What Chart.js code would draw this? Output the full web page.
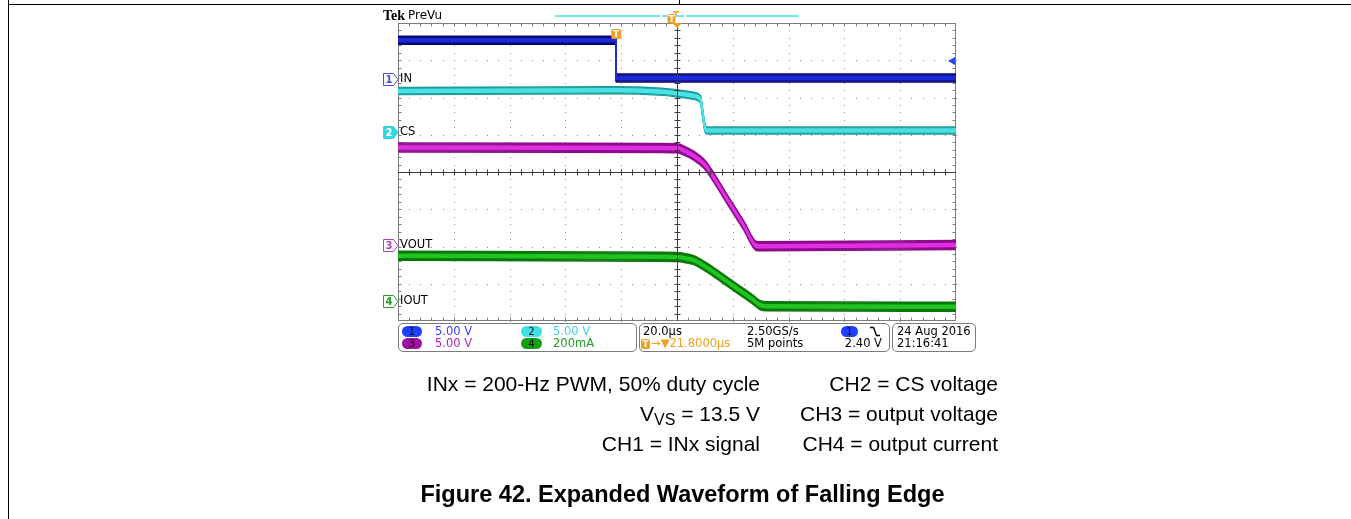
<!DOCTYPE html>
<html>
<head>
<meta charset="utf-8">
<script src="https://cdn.jsdelivr.net/npm/chart.js@4.4.0/dist/chart.umd.min.js"></script>
<style>
  html, body { margin: 0; padding: 0; background: #fff; overflow: hidden; }
  body { width: 1351px; height: 519px; position: relative; }
  #scope { position: absolute; left: 0; top: 0; }
  .ln { position: absolute; background: #000; }
  .rbox { position: absolute; border: 1px solid #7a7a7a; border-radius: 5px; box-sizing: border-box; }
  .ov { position: absolute; height: 11px; border-radius: 6px; font: 10px 'DejaVu Sans'; line-height: 11px; text-align: center; color: #111; }
  .rt { position: absolute; font: 11.5px 'DejaVu Sans'; line-height: 13px; white-space: nowrap; color: #000; }
  .cap { position: absolute; font: 21px 'Liberation Sans', Arial, sans-serif; line-height: 24px; white-space: nowrap; color: #000; text-align: right; }
  .cap .sub { font-size: 16px; position: relative; top: 4px; }
  .title { position: absolute; left: 0; width: 1365px; text-align: center; font: bold 23.5px 'Liberation Sans', Arial, sans-serif; line-height: 26px; }
</style>
</head>
<body>
<!-- page frame lines -->
<div class="ln" style="left:8px;top:0;width:1px;height:519px"></div>
<div class="ln" style="left:8px;top:4px;width:1343px;height:1px"></div>
<div class="ln" style="left:679px;top:0;width:1px;height:5px"></div>

<canvas id="scope" width="1351" height="519"></canvas>

<!-- Tek header -->
<div style="position:absolute;left:383px;top:7px;font:bold 14px 'Liberation Serif',serif;line-height:17px">Tek</div>
<div style="position:absolute;left:408px;top:7px;font:12px 'DejaVu Sans';line-height:16px">PreVu</div>

<!-- readout: channels -->
<div class="rbox" style="left:398px;top:323px;width:239px;height:29px"></div>
<div class="ov" style="left:402px;top:326px;width:20px;background:#2040ff">1</div>
<div class="rt" style="left:435px;top:325px;color:#3a3aff">5.00 V</div>
<div class="ov" style="left:521px;top:326px;width:21px;background:#40e0e6">2</div>
<div class="rt" style="left:553px;top:325px;color:#3cd4e0">5.00 V</div>
<div class="ov" style="left:402px;top:338px;width:20px;background:#a010a0">3</div>
<div class="rt" style="left:435px;top:337px;color:#b020c0">5.00 V</div>
<div class="ov" style="left:521px;top:338px;width:21px;background:#10a010">4</div>
<div class="rt" style="left:553px;top:337px;color:#20a020">200mA</div>

<!-- readout: timebase + trigger -->
<div class="rbox" style="left:639px;top:323px;width:251px;height:29px"></div>
<div class="rt" style="left:643px;top:325px">20.0µs</div>
<div style="position:absolute;left:641px;top:339px;width:9px;height:10px;background:#f0a020;border-radius:2px;color:#fff;font:bold 9px 'DejaVu Sans';line-height:10px;text-align:center">T</div>
<div class="rt" style="left:651px;top:337px;color:#f0a020">→▼21.8000µs</div>
<div class="rt" style="left:747px;top:325px">2.50GS/s</div>
<div class="rt" style="left:747px;top:337px">5M points</div>
<div class="ov" style="left:841px;top:326px;width:17px;background:#2040ff">1</div>
<svg style="position:absolute;left:869px;top:326px" width="12" height="11"><path d="M1 1.5 H4.5 L7.5 9.5 H11" fill="none" stroke="#000" stroke-width="1.4"/></svg>
<div class="rt" style="left:838px;top:337px;width:44px;text-align:right">2.40 V</div>

<!-- readout: date -->
<div class="rbox" style="left:892px;top:323px;width:84px;height:29px"></div>
<div class="rt" style="left:897px;top:325px">24 Aug 2016</div>
<div class="rt" style="left:897px;top:337px">21:16:41</div>

<!-- caption -->
<div class="cap" style="right:591px;top:372px">INx = 200-Hz PWM, 50% duty cycle</div>
<div class="cap" style="right:353px;top:372px">CH2 = CS voltage</div>
<div class="cap" style="right:591px;top:402px">V<span class="sub">VS</span> = 13.5 V</div>
<div class="cap" style="right:353px;top:402px">CH3 = output voltage</div>
<div class="cap" style="right:591px;top:432px">CH1 = INx signal</div>
<div class="cap" style="right:353px;top:432px">CH4 = output current</div>
<div class="title" style="top:481px">Figure 42. Expanded Waveform of Falling Edge</div>

<script>
'use strict';

// ── Waveform data (time in µs relative to trigger) ──
// CH1  IN   (V)
const tIn  = [-78.2, 0, 0, 121.8];
const vIn  = [5.2, 5.2, 0.12, 0.12];
// CH2  CS   (V)
const tCs  = [-78.2, 0, 15, 21, 27.8, 30.2, 31.0, 31.8, 32.6, 121.8];
const vCs  = [5.5, 5.6, 5.45, 5.25, 4.85, 4.4, 2.5, 0.6, 0.2, 0.2];
// CH3  VOUT (V)
const tOut = [-78.2, 15, 21.8, 24.5, 27.8, 31.4, 33.8, 39.8, 45.7, 50.5, 52, 121.8];
const vOut = [13.15, 13.1, 13.05, 12.7, 12.05, 11.0, 9.8, 6.2, 2.7, -0.1, -0.1, 0.05];
// CH4  IOUT (mA)
const tIo  = [-78.2, 15, 21.8, 24.8, 27.8, 30.8, 33.8, 39.8, 45.7, 49, 51.5, 54, 121.8];
const vIo  = [241, 235, 233, 227, 217, 193, 165, 101, 40, 5, -24, -31, -33];

const trigLevel = 2.40;      // V on CH1

// ── Scope settings ──────────────────────────────────
const tCenter = 21.8;        // µs, horizontal delay
const tPerDiv = 20;          // µs/div
const chNames = ['IN', 'CS', 'VOUT', 'IOUT'];
const chPerDiv = [5, 5, 5, 200];
const chPos = [2.5, 1.074, -1.973, -3.45];   // ground marker, div from centre
const chEdge = ['#07077c', '#1b9c9e', '#8c0c8c', '#087808'];
const chCore = ['#1c2ad6', '#4ce2e4', '#e030e0', '#22c422'];
const chBand = [4, 3.5, 4.5, 4.5];
const chSmooth = [false, true, true, true];

const series = [[tIn, vIn], [tCs, vCs], [tOut, vOut], [tIo, vIo]];

// ── Graticule (drawn from the scales) ───────────────
const graticule = {
  id: 'graticule',
  beforeDatasetsDraw(chart) {
    const { ctx, chartArea: a } = chart;
    const xs = chart.scales.x, yd = chart.scales.yd;
    ctx.save();
    ctx.fillStyle = '#8a8a8a';
    for (let k = -4; k <= 4; k++) {
      if (k === 0) continue;
      const px = Math.round(xs.getPixelForValue(tCenter + k * tPerDiv));
      for (let j = 0; j <= 40; j++) {
        const py = Math.round(yd.getPixelForValue(-4 + j * 0.2));
        ctx.fillRect(px, py, 1, 1);
      }
    }
    for (let k = -3; k <= 3; k++) {
      if (k === 0) continue;
      const py = Math.round(yd.getPixelForValue(k));
      for (let j = 0; j <= 50; j++) {
        const px = Math.round(xs.getPixelForValue(tCenter - 5 * tPerDiv + j * tPerDiv / 5));
        ctx.fillRect(px, py, 1, 1);
      }
    }
    // border + inward ticks
    ctx.strokeStyle = '#7c7c7c';
    ctx.lineWidth = 1;
    const L = Math.round(a.left) + 0.5, R = Math.round(a.right) - 0.5;
    const T = Math.round(a.top) + 0.5, B = Math.round(a.bottom) - 0.5;
    ctx.strokeRect(L, T, R - L, B - T);
    ctx.beginPath();
    for (let j = 1; j < 50; j++) {
      const px = Math.round(xs.getPixelForValue(tCenter - 5 * tPerDiv + j * tPerDiv / 5)) + 0.5;
      ctx.moveTo(px, T); ctx.lineTo(px, T + 3);
      ctx.moveTo(px, B); ctx.lineTo(px, B - 3);
    }
    for (let j = 1; j < 40; j++) {
      const py = Math.round(yd.getPixelForValue(-4 + j * 0.2)) + 0.5;
      ctx.moveTo(L, py); ctx.lineTo(L + 3, py);
      ctx.moveTo(R, py); ctx.lineTo(R - 3, py);
    }
    ctx.stroke();
    ctx.restore();
  },
  afterDatasetsDraw(chart) {
    const { ctx, chartArea: a } = chart;
    const xs = chart.scales.x, yd = chart.scales.yd;
    const cx = Math.round(xs.getPixelForValue(tCenter)) + 0.5;
    const cy = Math.round(yd.getPixelForValue(0)) + 0.5;
    ctx.save();
    ctx.strokeStyle = '#3c3c3c';
    ctx.lineWidth = 1;
    ctx.beginPath();
    ctx.moveTo(cx, a.top); ctx.lineTo(cx, a.bottom);
    ctx.moveTo(a.left, cy); ctx.lineTo(a.right, cy);
    for (let j = 1; j < 40; j++) {
      const py = Math.round(yd.getPixelForValue(-4 + j * 0.2)) + 0.5;
      ctx.moveTo(cx - 3, py); ctx.lineTo(cx + 3, py);
    }
    for (let j = 1; j < 50; j++) {
      const px = Math.round(xs.getPixelForValue(tCenter - 5 * tPerDiv + j * tPerDiv / 5)) + 0.5;
      ctx.moveTo(px, cy - 3); ctx.lineTo(px, cy + 3);
    }
    ctx.stroke();
    ctx.restore();
  }
};

// ── Thick noisy-looking traces: repeat the line with vertical offsets ──
const bandPlugin = {
  id: 'band',
  beforeDatasetDraw(chart, args) {
    const ds = chart.data.datasets[args.index];
    const h = ds.band || 0;
    const { ctx, chartArea: a } = chart;
    ctx.save();
    ctx.beginPath();
    ctx.rect(a.left, a.top, a.width, a.height);
    ctx.clip();
    for (let dy = -h; dy <= h + 0.01; dy += 1) {
      if (Math.abs(dy) < 0.01) continue;
      ctx.save();
      ctx.translate(0, dy);
      args.meta.dataset.draw(ctx, a);
      ctx.restore();
    }
    ctx.restore();
  }
};

// ── Markers, trigger symbols, record bar ────────────
function tMark(ctx, x, y, w, h) {
  ctx.fillStyle = '#f0a020';
  ctx.beginPath();
  ctx.roundRect(x, y, w, h, 2);
  ctx.fill();
  ctx.fillStyle = '#fff';
  ctx.font = 'bold 9px DejaVu Sans';
  ctx.textAlign = 'center';
  ctx.textBaseline = 'middle';
  ctx.fillText('T', x + w / 2, y + h / 2 + 0.5);
}

const overlay = {
  id: 'overlay',
  afterDraw(chart) {
    const { ctx, chartArea: a } = chart;
    const xs = chart.scales.x;
    ctx.save();
    // channel ground markers + labels
    for (let i = 0; i < 4; i++) {
      const yc = Math.round(chart.scales['y' + (i + 1)].getPixelForValue(0)) + 0.5;
      const x0 = 383.5;
      ctx.beginPath();
      ctx.moveTo(x0, yc - 6); ctx.lineTo(x0 + 10, yc - 6); ctx.lineTo(x0 + 14.5, yc);
      ctx.lineTo(x0 + 10, yc + 6); ctx.lineTo(x0, yc + 6); ctx.closePath();
      const col = ['#4a4ae0', '#34d6e0', '#b040b8', '#22a022'][i];
      ctx.fillStyle = i === 1 ? col : '#fff';
      ctx.fill();
      ctx.strokeStyle = col;
      ctx.lineWidth = 1;
      ctx.stroke();
      ctx.fillStyle = i === 1 ? '#fff' : col;
      ctx.font = 'bold 10px DejaVu Sans';
      ctx.textAlign = 'center';
      ctx.textBaseline = 'middle';
      ctx.fillText(String(i + 1), x0 + 5.5, yc + 0.5);
      ctx.fillStyle = '#000';
      ctx.font = '11.5px DejaVu Sans';
      ctx.textAlign = 'left';
      ctx.fillText(chNames[i], 400, yc - 0.5);
    }
    // record view bar
    ctx.strokeStyle = '#48e0e8';
    ctx.lineWidth = 1.5;
    ctx.beginPath();
    ctx.moveTo(555, 16); ctx.lineTo(660, 16);
    ctx.moveTo(662, 16); ctx.lineTo(684, 16);
    ctx.moveTo(686, 16); ctx.lineTo(799, 16);
    ctx.stroke();
    tMark(ctx, 667.5, 14, 8, 9.5);
    ctx.fillStyle = '#f0a020';
    ctx.fillRect(673, 11, 6, 1.5);
    ctx.fillRect(675.3, 11, 1.5, 4);
    // expansion point triangle at screen centre
    const cx = xs.getPixelForValue(tCenter);
    ctx.beginPath();
    ctx.moveTo(cx - 5, a.top); ctx.lineTo(cx + 5, a.top); ctx.lineTo(cx, a.top + 5);
    ctx.closePath();
    ctx.fill();
    // trigger point marker on the trace
    const tx = xs.getPixelForValue(0);
    tMark(ctx, tx - 5, a.top + 6, 10, 10);
    // trigger level arrow (CH1)
    const ty = chart.scales.y1.getPixelForValue(trigLevel);
    ctx.fillStyle = '#2244ff';
    ctx.beginPath();
    ctx.moveTo(a.right - 8, ty); ctx.lineTo(a.right - 1, ty - 4); ctx.lineTo(a.right - 1, ty + 4);
    ctx.closePath();
    ctx.fill();
    ctx.restore();
  }
};

// ── Datasets ─────────────────────────────────────────
const datasets = [];
series.forEach(([ts, vs], i) => {
  const pts = ts.map((t, k) => ({ x: t, y: vs[k] }));
  const common = {
    data: pts, yAxisID: 'y' + (i + 1), borderWidth: 1.5,
    cubicInterpolationMode: chSmooth[i] ? 'monotone' : 'default'
  };
  datasets.push({ ...common, borderColor: chEdge[i], band: chBand[i], order: 8 - 2 * i });
  datasets.push({ ...common, borderColor: chCore[i], band: 1.5, order: 7 - 2 * i });
});

const scales = {
  x:  { type: 'linear', min: tCenter - 5 * tPerDiv, max: tCenter + 5 * tPerDiv, display: false },
  yd: { type: 'linear', min: -4, max: 4, display: false }
};
chPerDiv.forEach((s, i) => {
  scales['y' + (i + 1)] = {
    type: 'linear', display: false,
    min: (-4 - chPos[i]) * s, max: (4 - chPos[i]) * s
  };
});

new Chart(document.getElementById('scope').getContext('2d'), {
  type: 'line',
  data: { datasets },
  options: {
    responsive: false,
    animation: false,
    layout: { padding: { left: 398, top: 23, right: 395, bottom: 198 } },
    plugins: { legend: { display: false }, tooltip: { enabled: false } },
    elements: { point: { radius: 0 }, line: { tension: 0, borderJoinStyle: 'round' } },
    scales
  },
  plugins: [graticule, bandPlugin, overlay]
});
</script>
</body>
</html>
